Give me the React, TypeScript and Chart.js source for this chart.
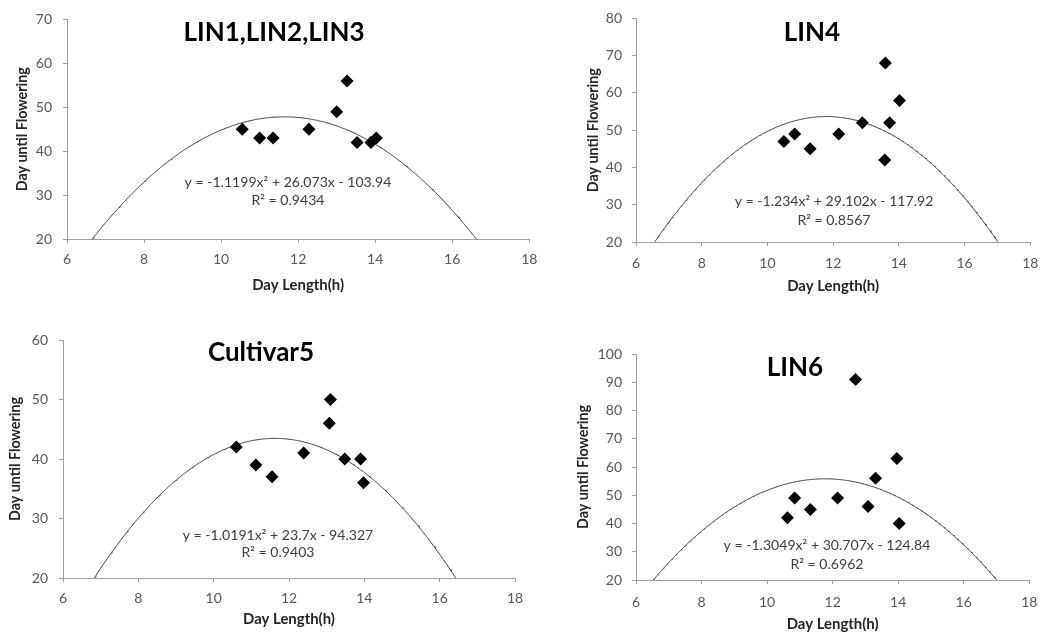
import React, { useEffect, useRef } from "react";
import { Chart, registerables } from "chart.js";

Chart.register(...registerables);

// ---------- data ----------
const xAxisMin = 6;
const xAxisMax = 18;
const xAxisStep = 2;
const xAxisTitle = "Day Length(h)";
const yAxisTitle = "Day until Flowering";

// LIN1, LIN2, LIN3
const lin123Title = "LIN1,LIN2,LIN3";
const lin123X = [10.55, 11.0, 11.35, 12.28, 13.0, 13.27, 13.53, 13.89, 14.03];
const lin123Y = [45, 43, 43, 45, 49, 56, 42, 42, 43];
const lin123Coef = [-1.1199, 26.073, -103.94];
const lin123Eq = "y = -1.1199x\u00B2 + 26.073x - 103.94";
const lin123R2 = "R\u00B2 = 0.9434";
const lin123YRange = [20, 70, 10];

// LIN4
const lin4Title = "LIN4";
const lin4X = [10.5, 10.83, 11.3, 12.17, 12.89, 13.59, 13.72, 13.57, 14.02];
const lin4Y = [47, 49, 45, 49, 52, 68, 52, 42, 58];
const lin4Coef = [-1.234, 29.102, -117.92];
const lin4Eq = "y = -1.234x\u00B2 + 29.102x - 117.92";
const lin4R2 = "R\u00B2 = 0.8567";
const lin4YRange = [20, 80, 10];

// Cultivar5
const cult5Title = "Cultivar5";
const cult5X = [10.6, 11.12, 11.55, 12.39, 13.07, 13.1, 13.48, 13.9, 13.98];
const cult5Y = [42, 39, 37, 41, 46, 50, 40, 40, 36];
const cult5Coef = [-1.0191, 23.7, -94.327];
const cult5Eq = "y = -1.0191x\u00B2 + 23.7x - 94.327";
const cult5R2 = "R\u00B2 = 0.9403";
const cult5YRange = [20, 60, 10];

// LIN6
const lin6Title = "LIN6";
const lin6X = [10.62, 10.84, 11.32, 12.15, 12.7, 13.08, 13.31, 13.96, 14.03];
const lin6Y = [42, 49, 45, 49, 91, 46, 56, 63, 40];
const lin6Coef = [-1.3049, 30.707, -124.84];
const lin6Eq = "y = -1.3049x\u00B2 + 30.707x - 124.84";
const lin6R2 = "R\u00B2 = 0.6962";
const lin6YRange = [20, 100, 10];

// ---------- styles ----------
const FONT = "Lato, 'Open Sans', sans-serif";
const TICK_SIZE = 14;
const TICK_LEN = 4;
const AXIS_COLOR = "#a0a0a0";
const TICK_COLOR = "#595959";

function fitSize(text: string, weight: string, target: number) {
  const c = document.createElement("canvas").getContext("2d");
  if (!c) return 14;
  c.font = `${weight} 100px ${FONT}`;
  const w = c.measureText(text).width;
  return w > 0 ? (100 * target) / w : 14;
}

type PanelCfg = {
  left: number; top: number; w: number; h: number;
  area: { l: number; r: number; t: number; b: number };
  yTitleX: number; xTitleY: number; xTickOff: number; yTickGap: number;
  title: string; titlePos: [number, number];
  eq: string; r2: string; eqPos: [number, number, number];
  xs: number[]; ys: number[]; coef: number[]; yRange: number[];
};

const panels: PanelCfg[] = [
  {
    left: 0, top: 0, w: 545, h: 305,
    area: { l: 67, r: 532, t: 17, b: 239 },
    yTitleX: 22, xTitleY: 285, xTickOff: 20, yTickGap: 15,
    title: lin123Title, titlePos: [274, 33],
    eq: lin123Eq, r2: lin123R2, eqPos: [288, 182, 200],
    xs: lin123X, ys: lin123Y, coef: lin123Coef, yRange: lin123YRange,
  },
  {
    left: 560, top: 0, w: 487, h: 305,
    area: { l: 76, r: 475, t: 18, b: 242 },
    yTitleX: 33, xTitleY: 286, xTickOff: 21, yTickGap: 14,
    title: lin4Title, titlePos: [252, 33],
    eq: lin4Eq, r2: lin4R2, eqPos: [274, 201, 220],
    xs: lin4X, ys: lin4Y, coef: lin4Coef, yRange: lin4YRange,
  },
  {
    left: 0, top: 320, w: 545, h: 314,
    area: { l: 63, r: 515, t: 20, b: 258 },
    yTitleX: 15, xTitleY: 299, xTickOff: 20, yTickGap: 15,
    title: cult5Title, titlePos: [261, 33],
    eq: cult5Eq, r2: cult5R2, eqPos: [278, 215, 232],
    xs: cult5X, ys: cult5Y, coef: cult5Coef, yRange: cult5YRange,
  },
  {
    left: 560, top: 320, w: 487, h: 314,
    area: { l: 76, r: 474, t: 34, b: 260 },
    yTitleX: 23, xTitleY: 304, xTickOff: 22, yTickGap: 14,
    title: lin6Title, titlePos: [235, 48],
    eq: lin6Eq, r2: lin6R2, eqPos: [267, 225, 244],
    xs: lin6X, ys: lin6Y, coef: lin6Coef, yRange: lin6YRange,
  },
];

function trendPoints(coef: number[]) {
  const pts: { x: number; y: number }[] = [];
  for (let i = 0; i <= 480; i++) {
    const x = xAxisMin + (i * (xAxisMax - xAxisMin)) / 480;
    pts.push({ x, y: coef[0] * x * x + coef[1] * x + coef[2] });
  }
  return pts;
}

function Panel({ cfg }: { cfg: PanelCfg }) {
  const ref = useRef<HTMLCanvasElement>(null);
  useEffect(() => {
    if (!ref.current) return;
    const eqSize = fitSize(lin123Eq, "normal", 207);
    const xTitleSize = fitSize(xAxisTitle, "bold", 92);
    const yTitleSize = fitSize(yAxisTitle, "bold", 124);
    const tickLH = TICK_SIZE * 1.2;
    const textPlugin = {
      id: "panelText",
      afterDatasetsDraw(chart: any) {
        const ctx = chart.ctx;
        ctx.save();
        ctx.textAlign = "center";
        ctx.textBaseline = "middle";
        ctx.fillStyle = "#000";
        ctx.font = `bold 26px ${FONT}`;
        ctx.fillText(cfg.title, cfg.titlePos[0], cfg.titlePos[1]);
        ctx.fillStyle = "#404040";
        ctx.font = `${eqSize}px ${FONT}`;
        ctx.fillText(cfg.eq, cfg.eqPos[0], cfg.eqPos[1]);
        ctx.fillText(cfg.r2, cfg.eqPos[0], cfg.eqPos[2]);
        ctx.restore();
      },
    };
    const chart = new Chart(ref.current, {
      type: "scatter",
      data: {
        datasets: [
          {
            data: trendPoints(cfg.coef),
            showLine: true,
            borderColor: "#3a3a3a",
            borderWidth: 1,
            pointRadius: 0,
            fill: false,
            order: 2,
          } as any,
          {
            data: cfg.xs.map((x, i) => ({ x, y: cfg.ys[i] })),
            pointStyle: "rectRot",
            pointRadius: 6.5,
            backgroundColor: "#000",
            borderColor: "#000",
            borderWidth: 0,
            order: 1,
          } as any,
        ],
      },
      options: {
        animation: false,
        responsive: false,
        events: [],
        layout: {
          padding: { left: 0, top: cfg.area.t, right: cfg.w - cfg.area.r, bottom: 0 },
        },
        plugins: {
          legend: { display: false },
          tooltip: { enabled: false },
          title: { display: false },
        },
        scales: {
          x: {
            type: "linear",
            min: xAxisMin,
            max: xAxisMax,
            ticks: {
              stepSize: xAxisStep,
              color: TICK_COLOR,
              font: { family: FONT, size: TICK_SIZE },
              padding: cfg.xTickOff - TICK_LEN - tickLH / 2,
              maxRotation: 0,
            },
            grid: { display: true, drawOnChartArea: false, drawTicks: true, tickLength: TICK_LEN, color: AXIS_COLOR },
            border: { display: true, color: AXIS_COLOR },
            title: {
              display: true,
              text: xAxisTitle,
              color: "#262626",
              font: { family: FONT, size: xTitleSize, weight: "bold" },
              padding: { top: 0, bottom: cfg.h - cfg.xTitleY - (xTitleSize * 1.2) / 2 },
            },
            afterFit: (s: any) => { s.height = cfg.h - cfg.area.b; },
          },
          y: {
            type: "linear",
            min: cfg.yRange[0],
            max: cfg.yRange[1],
            ticks: {
              stepSize: cfg.yRange[2],
              color: TICK_COLOR,
              font: { family: FONT, size: TICK_SIZE },
              padding: cfg.yTickGap - TICK_LEN,
            },
            grid: { display: true, drawOnChartArea: false, drawTicks: true, tickLength: TICK_LEN, color: AXIS_COLOR },
            border: { display: true, color: AXIS_COLOR },
            title: {
              display: true,
              text: yAxisTitle,
              color: "#262626",
              font: { family: FONT, size: yTitleSize, weight: "bold" },
              padding: { top: cfg.yTitleX - (yTitleSize * 1.2) / 2, bottom: 0 },
            },
            afterFit: (s: any) => { s.width = cfg.area.l; },
          },
        },
      } as any,
      plugins: [textPlugin],
    });
    return () => chart.destroy();
  }, [cfg]);
  return (
    <div style={{ position: "absolute", left: cfg.left, top: cfg.top, width: cfg.w, height: cfg.h }}>
      <canvas ref={ref} width={cfg.w} height={cfg.h} style={{ display: "block" }} />
    </div>
  );
}

export default function App() {
  return (
    <div style={{ position: "absolute", left: 0, top: 0, width: 1047, height: 634, background: "#fff", overflow: "hidden" }}>
      {panels.map((p, i) => (
        <Panel key={i} cfg={p} />
      ))}
    </div>
  );
}
